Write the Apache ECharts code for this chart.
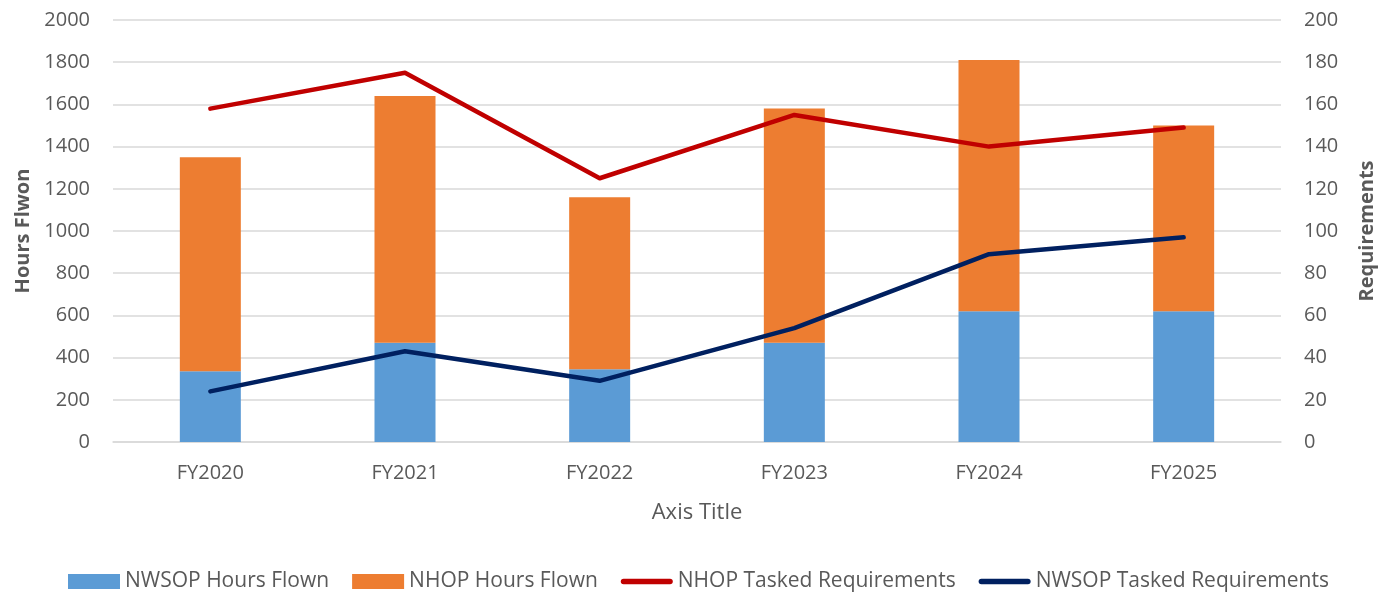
<!DOCTYPE html>
<html>
<head>
<meta charset="utf-8">
<title>Hours Flown</title>
<script src="https://cdn.jsdelivr.net/npm/echarts@6/dist/echarts.min.js"></script>
<style>
  html, body { margin: 0; padding: 0; background: #fff; }
  #chart { width: 1378px; height: 594px; }
</style>
</head>
<body>
<div id="chart"></div>
<script>
// categories
const years = ['FY2020', 'FY2021', 'FY2022', 'FY2023', 'FY2024', 'FY2025']
// hours flown (stacked bars, left axis)
const nwsopHours = [335, 470, 345, 470, 620, 620]
const nhopHours = [1015, 1170, 815, 1110, 1190, 880]
// tasked requirements (lines, right axis)
const nhopReq = [158, 175, 125, 155, 140, 149]
const nwsopReq = [24, 43, 29, 54, 89, 97]

const textColor = '#595959'
const font = 'Open Sans'
const lineIcon = 'path://M3,0 H53 A3,3 0 0 1 53,6 H3 A3,3 0 0 1 3,0 Z'

const chart = echarts.init(document.getElementById('chart'))
chart.setOption({
  animation: false,
  textStyle: { fontFamily: font },
  grid: { left: 113, right: 97, top: 20, bottom: 152, outerBoundsMode: 'none' },
  legend: {
    top: 566,
    left: 63,
    itemWidth: 52,
    itemHeight: 15,
    itemGap: 23,
    textStyle: { color: textColor, fontSize: 21, fontFamily: font },
    data: [
      { name: 'NWSOP Hours Flown', icon: 'rect' },
      { name: 'NHOP Hours Flown', icon: 'rect' },
      { name: 'NHOP Tasked Requirements', icon: lineIcon },
      { name: 'NWSOP Tasked Requirements', icon: lineIcon }
    ]
  },
  xAxis: {
    type: 'category',
    data: years,
    name: 'Axis Title',
    nameLocation: 'middle',
    nameGap: 60,
    nameTextStyle: { color: textColor, fontSize: 22 },
    axisLine: { lineStyle: { color: '#D9D9D9', width: 1.5 } },
    axisTick: { show: false },
    axisLabel: { color: textColor, fontSize: 20, margin: 21 }
  },
  yAxis: [
    {
      type: 'value',
      min: 0,
      max: 2000,
      interval: 200,
      name: 'Hours Flwon',
      nameLocation: 'middle',
      nameGap: 80,
      nameTextStyle: { color: textColor, fontSize: 20, fontWeight: 'bold' },
      axisLine: { show: false },
      axisTick: { show: false },
      axisLabel: { color: textColor, fontSize: 20, margin: 23, formatter: v => String(v) },
      splitLine: { lineStyle: { color: '#D9D9D9', width: 1.5 } }
    },
    {
      type: 'value',
      min: 0,
      max: 200,
      interval: 20,
      name: 'Requirements',
      nameLocation: 'middle',
      nameGap: 76,
      nameTextStyle: { color: textColor, fontSize: 20, fontWeight: 'bold' },
      axisLine: { show: false },
      axisTick: { show: false },
      axisLabel: { color: textColor, fontSize: 20, margin: 23, formatter: v => String(v) },
      splitLine: { show: false }
    }
  ],
  series: [
    {
      name: 'NWSOP Hours Flown',
      type: 'bar',
      stack: 'hours',
      barWidth: 61,
      data: nwsopHours,
      itemStyle: { color: '#5B9BD5' }
    },
    {
      name: 'NHOP Hours Flown',
      type: 'bar',
      stack: 'hours',
      barWidth: 61,
      data: nhopHours,
      itemStyle: { color: '#ED7D31' }
    },
    {
      name: 'NHOP Tasked Requirements',
      type: 'line',
      yAxisIndex: 1,
      data: nhopReq,
      showSymbol: false,
      lineStyle: { color: '#C00000', width: 4.5, cap: 'round', join: 'round' },
      itemStyle: { color: '#C00000' }
    },
    {
      name: 'NWSOP Tasked Requirements',
      type: 'line',
      yAxisIndex: 1,
      data: nwsopReq,
      showSymbol: false,
      lineStyle: { color: '#002060', width: 4.5, cap: 'round', join: 'round' },
      itemStyle: { color: '#002060' }
    }
  ]
})
</script>
</body>
</html>
